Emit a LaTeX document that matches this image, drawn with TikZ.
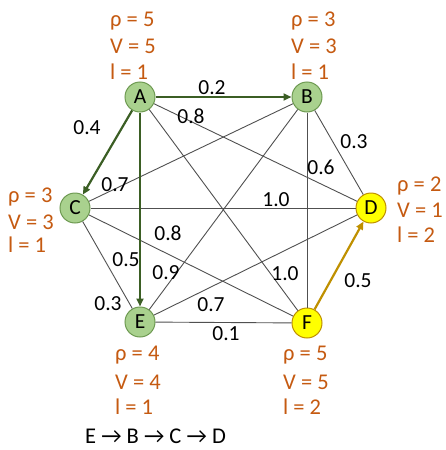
\documentclass[tikz,border=0pt]{standalone}
\usepackage{fontspec}
\setmainfont{Carlito}
\usetikzlibrary{arrows.meta}
\definecolor{orng}{HTML}{C55A11}
\definecolor{gfill}{HTML}{A9D18E}
\definecolor{gdraw}{HTML}{6E9A52}
\definecolor{yfill}{HTML}{FFFF00}
\definecolor{ydraw}{HTML}{BF9000}
\definecolor{darrow}{HTML}{3B5E24}
\definecolor{garrow}{HTML}{BF9000}
\definecolor{edgec}{HTML}{505050}
\begin{document}
\begin{tikzpicture}[x=1pt,y=-1pt,font=\fontsize{21.5}{24}\selectfont,
  gnode/.style={circle,draw=gdraw,fill=gfill,line width=1pt,minimum size=30pt,inner sep=0pt},
  ynode/.style={circle,draw=ydraw,fill=yfill,line width=1pt,minimum size=30pt,inner sep=0pt},
  edge/.style={draw=edgec,line width=0.9pt},
  garr/.style={draw=darrow,line width=2.2pt,-{Triangle[length=8pt,width=7pt]}},
  yarr/.style={draw=garrow,line width=2.2pt,-{Triangle[length=8pt,width=7pt]}},
  wt/.style={inner sep=0pt,text=black},
  info/.style={anchor=west,inner sep=0pt,text=orng,font=\fontsize{22.5}{24}\selectfont}]
\useasboundingbox (0,0) rectangle (445,450);
\node[gnode] (A) at (140,97) {A};
\node[gnode] (B) at (307,97) {B};
\node[gnode] (C) at (75,208) {C};
\node[ynode] (D) at (371,208) {D};
\node[gnode] (E) at (140,322) {E};
\node[ynode] (F) at (307,323) {F};
% thin edges
\draw[edge] (A) -- (D);
\draw[edge] (A) -- (F);
\draw[edge] (B) -- (C);
\draw[edge] (B) -- (D);
\draw[edge] (B) -- (E);
\draw[edge] (B) -- (F);
\draw[edge] (C) -- (D);
\draw[edge] (C) -- (E);
\draw[edge] (C) -- (F);
\draw[edge] (D) -- (E);
\draw[edge] (E) -- (F);
% arrows
\draw[garr] (A) -- (B);
\draw[garr] (A) -- (C);
\draw[garr] (A) -- (E);
\draw[yarr] (F) -- (D);
% weights
\node[wt] (w1) at (212,88) {0.2};
\node[wt] (w2) at (191,116) {0.8};
\node[wt] (w3) at (87,128) {0.4};
\node[wt] (w4) at (115,185) {0.7};
\node[wt] (w5) at (168,233) {0.8};
\node[wt] (w6) at (126,260) {0.5};
\node[wt] (w7) at (166,273) {0.9};
\node[wt] (w8) at (108,304) {0.3};
\node[wt] (w9) at (211,305) {0.7};
\node[wt] (w10) at (226,334) {0.1};
\node[wt] (w11) at (276,200) {1.0};
\node[wt] (w12) at (321,167) {0.6};
\node[wt] (w13) at (285,274) {1.0};
\node[wt] (w14) at (358,281) {0.5};
\node[wt] (w15) at (354,142) {0.3};
% info labels
\node[info] (a1) at (110,21) {ρ = 5};
\node[info] (a2) at (110,46) {V = 5};
\node[info] (a3) at (110,72) {l = 1};
\node[info] (b1) at (291,21) {ρ = 3};
\node[info] (b2) at (291,46) {V = 3};
\node[info] (b3) at (291,72) {l = 1};
\node[info] (c1) at (8,197) {ρ = 3};
\node[info] (c2) at (8,222) {V = 3};
\node[info] (c3) at (8,245) {l = 1};
\node[info] (d1) at (397,186) {ρ = 2};
\node[info] (d2) at (397,210) {V = 1};
\node[info] (d3) at (397,235) {l = 2};
\node[info] (e1) at (115,355) {ρ = 4};
\node[info] (e2) at (115,382) {V = 4};
\node[info] (e3) at (115,407) {l = 1};
\node[info] (f1) at (283,355) {ρ = 5};
\node[info] (f2) at (283,382) {V = 5};
\node[info] (f3) at (283,407) {l = 2};
\node[anchor=base west,inner sep=0pt,font=\fontsize{22.5}{24}\selectfont] (path) at (85,443) {E → B → C → D};
\end{tikzpicture}
\end{document}
